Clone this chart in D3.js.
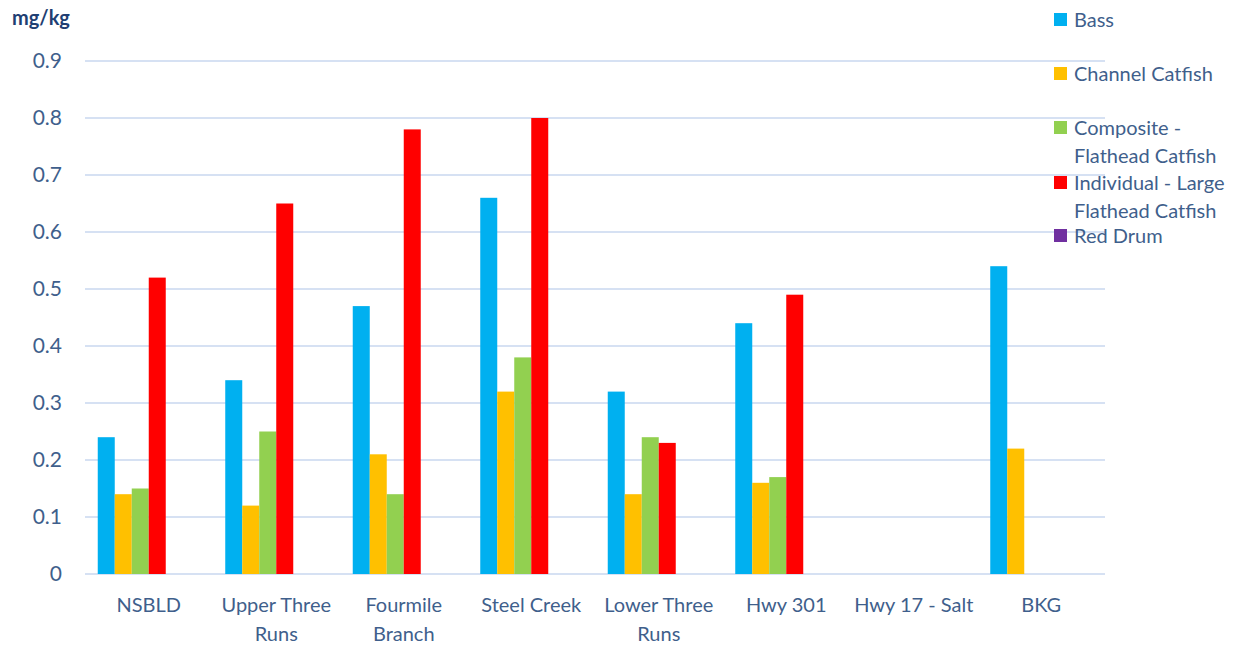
<!DOCTYPE html>
<html>
<head>
<meta charset="utf-8">
<script src="https://cdn.jsdelivr.net/npm/d3@7"></script>
<style>
  html, body { margin: 0; padding: 0; background: #fff; }
  svg { display: block; font-family: Lato, "Open Sans", sans-serif; }
</style>
</head>
<body>
<svg id="chart" width="1253" height="648"></svg>
<script>
const categories = ["NSBLD", "Upper Three\nRuns", "Fourmile\nBranch", "Steel Creek", "Lower Three\nRuns", "Hwy 301", "Hwy 17 - Salt", "BKG"];
const seriesNames = ["Bass", "Channel Catfish", "Composite -\nFlathead Catfish", "Individual - Large\nFlathead Catfish", "Red Drum"];
const seriesColors = ["#00B0F0", "#FFC000", "#92D050", "#FF0000", "#7030A0"];
// one slot per series plus one empty slot (as in the original layout)
const slotCount = 6;
const bass        = [0.24, 0.34, 0.47, 0.66, 0.32, 0.44, null, 0.54];
const channel     = [0.14, 0.12, 0.21, 0.32, 0.14, 0.16, null, 0.22];
const composite   = [0.15, 0.25, 0.14, 0.38, 0.24, 0.17, null, null];
const individual  = [0.52, 0.65, 0.78, 0.80, 0.23, 0.49, null, null];
const redDrum     = [null, null, null, null, null, null, null, null];
const seriesValues = [bass, channel, composite, individual, redDrum];
const yTicks = [0, 0.1, 0.2, 0.3, 0.4, 0.5, 0.6, 0.7, 0.8, 0.9];
const yTickLabels = ["0", "0.1", "0.2", "0.3", "0.4", "0.5", "0.6", "0.7", "0.8", "0.9"];
const unitLabel = "mg/kg";

(function () {
const svg = d3.select("#chart");
const mLeft = 85, mRight = 1105, mTop = 61, mBottom = 574;
const textColor = "#3F5F8C";

const x0 = d3.scaleBand().domain(categories.map((d, i) => i)).range([mLeft, mRight]).paddingInner(0).paddingOuter(0);
const x1 = d3.scaleBand().domain(d3.range(slotCount)).range([0, x0.bandwidth()]).paddingInner(0).paddingOuter(0.75);
const y = d3.scaleLinear().domain([0, 0.9]).range([mBottom, mTop]);

// gridlines
svg.append("g").selectAll("line").data(yTicks).join("line")
  .attr("x1", mLeft).attr("x2", mRight)
  .attr("y1", d => y(d)).attr("y2", d => y(d))
  .attr("stroke", "#D6E1F3").attr("stroke-width", 2);

// y axis labels
const yAxis = d3.axisLeft(y).tickValues(yTicks).tickFormat((d, i) => yTickLabels[i]).tickSize(0).tickPadding(0);
const gy = svg.append("g").attr("transform", `translate(${62},0)`).call(yAxis);
gy.select(".domain").remove();
gy.selectAll("text").attr("fill", textColor).attr("font-size", 21).attr("font-family", "Lato, sans-serif");

// unit label
svg.append("text").attr("x", 12).attr("y", 25).text(unitLabel)
  .attr("font-size", 20).attr("font-weight", "bold").attr("fill", "#1F3F73");

// bars
const flat = [];
seriesValues.forEach((vals, s) => vals.forEach((v, c) => { if (v != null) flat.push({s, c, v}); }));
svg.append("g").selectAll("rect").data(flat).join("rect")
  .attr("x", d => x0(d.c) + x1(d.s))
  .attr("width", x1.bandwidth())
  .attr("y", d => y(d.v))
  .attr("height", d => y(0) - y(d.v))
  .attr("fill", d => seriesColors[d.s]);

// x labels
const gx = svg.append("g");
categories.forEach((c, i) => {
  const lines = c.split("\n");
  const t = gx.append("text").attr("text-anchor", "middle").attr("fill", textColor).attr("font-size", 20);
  lines.forEach((ln, j) => {
    t.append("tspan").attr("x", x0(i) + x0.bandwidth() / 2).attr("y", 612 + j * 29).text(ln);
  });
});

// legend
const legendY = [20, 74, 128, 183, 236];
const lg = svg.append("g");
seriesNames.forEach((n, i) => {
  lg.append("rect").attr("x", 1054).attr("y", legendY[i] - 7).attr("width", 13).attr("height", 13).attr("fill", seriesColors[i]);
  const t = lg.append("text").attr("fill", textColor).attr("font-size", 20);
  n.split("\n").forEach((ln, j) => {
    t.append("tspan").attr("x", 1074).attr("y", legendY[i] + 7 + j * 28).text(ln);
  });
});
})();
</script>
</body>
</html>
